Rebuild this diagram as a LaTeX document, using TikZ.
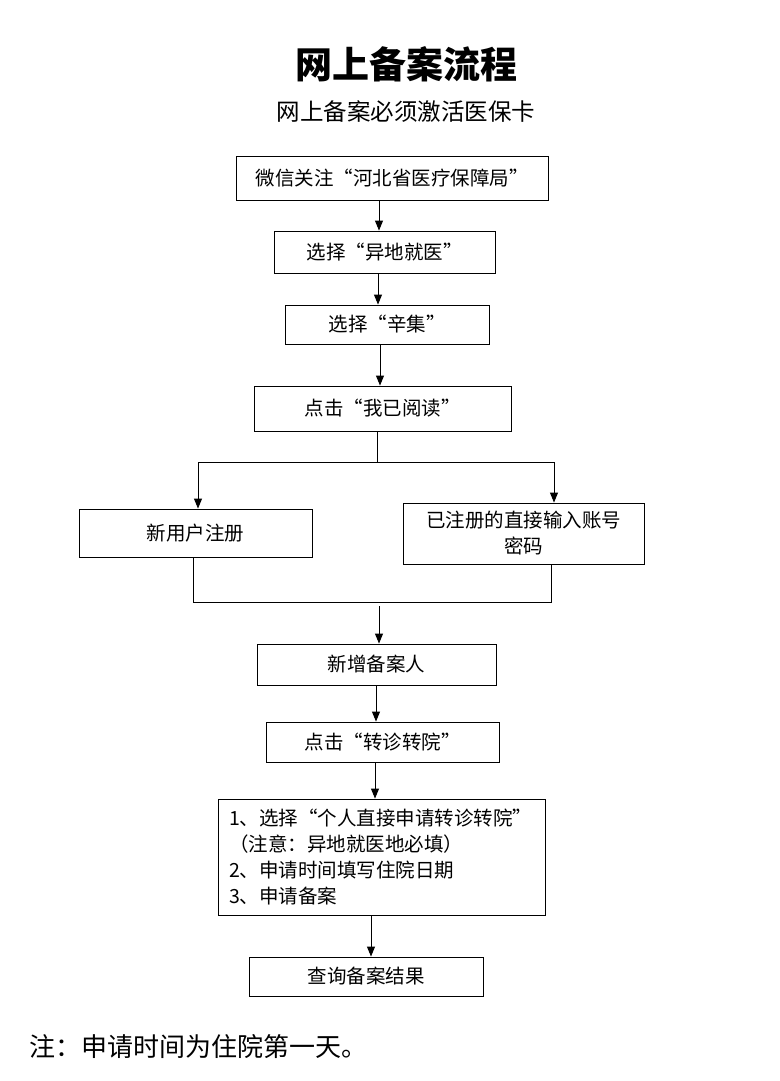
\documentclass[tikz,border=0pt]{standalone}
\usepackage{fontspec}
\newfontfamily\cjk{Noto Sans CJK SC}
\usetikzlibrary{arrows.meta}
\tikzset{font=\cjk}
\tikzset{box/.style={draw, line width=0.9pt, inner sep=0pt, align=center, font=\cjk\fontsize{19.5}{26}\selectfont}}
\tikzset{arr/.style={line width=0.9pt, -{Triangle[length=10pt,width=8pt]}}}
\tikzset{line/.style={line width=0.9pt}}

\begin{document}
\begin{tikzpicture}[x=1pt,y=-1pt]
  \useasboundingbox (0,0) rectangle (779,1081);
  \node[font=\cjk\bfseries\fontsize{37}{40}\selectfont] (title) at (406,64) {网上备案流程};
  \node[font=\cjk\fontsize{23.5}{26}\selectfont] (sub) at (406,112) {网上备案必须激活医保卡};
  \node[box, minimum width=312pt, minimum height=44pt] (wx) at (392,178) {微信关注“河北省医疗保障局”};
  \node[box, minimum width=221pt, minimum height=42pt] (yd) at (384.5,252) {选择“异地就医”};
  \node[box, minimum width=204pt, minimum height=39pt] (xj) at (387,324.5) {选择“辛集”};
  \node[box, minimum width=257pt, minimum height=45pt] (rd) at (382.5,408.5) {点击“我已阅读”};
  \node[box, minimum width=233pt, minimum height=48pt] (new) at (195.5,533) {新用户注册};
  \node[box, minimum width=241pt, minimum height=61pt] (old) at (523.5,533.5) {已注册的直接输入账号\\密码};
  \node[box, minimum width=239pt, minimum height=41pt] (add) at (376.5,664.5) {新增备案人};
  \node[box, minimum width=233pt, minimum height=40pt] (zz) at (382.5,742) {点击“转诊转院”};
  \node[box, minimum width=327pt, minimum height=116pt, text width=305pt, align=left] (big) at (381.5,857)
    {1、选择“个人直接申请转诊转院”\\（注意：异地就医地必填）\\2、申请时间填写住院日期\\3、申请备案};
  \node[box, minimum width=234pt, minimum height=39pt] (cx) at (366,976.5) {查询备案结果};
  \node[anchor=west, font=\cjk\fontsize{26}{30}\selectfont] (note) at (26,1047) {注：申请时间为住院第一天。};
  % straight steps
  \foreach \a/\b/\x in {wx/yd/379, yd/xj/378, xj/rd/380, add/zz/376, zz/big/375, big/cx/371} {
    \coordinate (t) at (\x,0);
    \draw[arr] (t |- \a.south) -- (t |- \b.north);
  }
  % split
  \coordinate (sp) at (377,462);
  \coordinate (spl) at (198,462);
  \coordinate (spr) at (554,462);
  \draw[line] (sp |- rd.south) -- (sp);
  \draw[line] (spl) -- (spr);
  \draw[arr] (spl) -- (spl |- new.north);
  \draw[arr] (spr) -- (spr |- old.north);
  % join
  \coordinate (jl) at (193,602);
  \coordinate (jr) at (551,602);
  \coordinate (jn) at (379,606);
  \draw[line] (jl |- new.south) -- (jl) -- (jr) -- (jr |- old.south);
  \draw[arr] (jn) -- (jn |- add.north);
\end{tikzpicture}
\end{document}
